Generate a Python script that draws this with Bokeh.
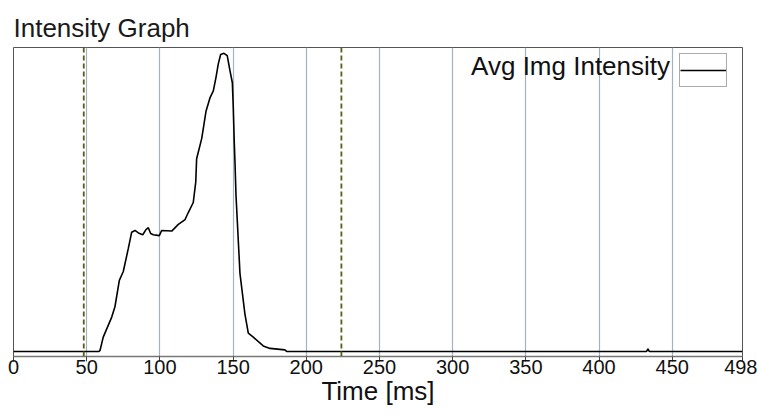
from bokeh.plotting import figure
from bokeh.models import Range1d, FixedTicker, Span, Label, Legend, LegendItem
from bokeh.embed import file_html
from bokeh.resources import INLINE

# ---- data ----
time_ms = [0, 58.4, 59.1, 61.3, 67.1, 69.3, 72.3, 75.0, 78.4, 80.7, 83.0, 85.3, 88.3,
           90.5, 92.1, 93.7, 95.5, 99.6, 101.2, 108.1, 112.6, 117.2, 119.4, 122.8,
           124.5, 125.1, 128.6, 131.5, 134.2, 136.5, 138.3, 139.9, 141.5, 143.8,
           146.0, 147.9, 149.5, 150.1, 150.8, 151.3, 152.0, 154.7, 158.1, 160.4,
           163.8, 170.6, 175.2, 185.4, 186.6, 432.5, 433.4, 434.3, 498]
intensity = [0, 0, 0.3, 4.7, 11.3, 14.7, 23.4, 26.3, 33.8, 39.2, 39.8, 39.0, 38.4,
             40.1, 40.7, 38.8, 38.4, 38.1, 39.8, 39.6, 41.8, 43.4, 45.7, 49.0,
             55.7, 63.4, 70.1, 79.0, 83.4, 85.7, 90.1, 94.6, 97.7, 98.1,
             97.3, 92.3, 88.4, 80.7, 69.0, 62.3, 51.3, 25.7, 12.3, 6.0,
             4.7, 1.8, 1.0, 0.5, 0, 0, 0.8, 0, 0]
x_ticks = [0, 50, 100, 150, 200, 250, 300, 350, 400, 450, 498]
grid_ticks = [50, 100, 150, 200, 250, 300, 350, 400, 450]
cursor_ms = [48, 224]
series_name = "Avg Img Intensity"

FONT = "Liberation Sans"

p = figure(width=757, height=414, output_backend="svg", toolbar_location=None,
           x_range=Range1d(0, 498), y_range=Range1d(-1.667, 100),
           y_axis_location=None, min_border_left=13, min_border_right=15,
           min_border_top=47, min_border_bottom=58)

p.background_fill_color = "white"
p.border_fill_color = "white"
p.outline_line_color = "#555555"
p.outline_line_width = 1

# title
p.title.text = "Intensity Graph"
p.title.text_font = FONT
p.title.text_font_size = "26px"
p.title.text_font_style = "normal"
p.title.text_color = "#1a1a1a"
p.title.align = "left"
p.title.offset = 0
p.title.standoff = 9

# grid
p.ygrid.visible = False
p.xgrid.ticker = FixedTicker(ticks=grid_ticks)
p.xgrid.grid_line_color = "#a0b4bf"
p.xgrid.grid_line_width = 1.2

# axis
ax = p.xaxis[0]
ax.ticker = FixedTicker(ticks=x_ticks)
ax.axis_line_color = "#777777"
ax.axis_line_width = 1.5
ax.major_tick_line_color = "#444444"
ax.major_tick_in = 0
ax.major_tick_out = 5
ax.minor_tick_line_color = None
ax.major_label_text_font = FONT
ax.major_label_text_font_size = "20px"
ax.major_label_text_color = "#111111"
ax.major_label_standoff = -2
ax.axis_label = "Time [ms]"
ax.axis_label_text_font = FONT
ax.axis_label_text_font_size = "26px"
ax.axis_label_text_font_style = "normal"
ax.axis_label_text_color = "#111111"
ax.axis_label_standoff = -1

# cursors
for c in cursor_ms:
    p.add_layout(Span(location=c, dimension="height", line_color="#5c5c14",
                      line_width=1.8, line_dash="5 3"))

# curve
r = p.line(time_ms, intensity, line_color="black", line_width=1.6)

# legend: text label + glyph box
p.add_layout(Label(x=448.5, y=94.0, text=series_name, text_align="right",
                   text_baseline="middle", text_font=FONT,
                   text_font_size="26px", text_color="#111111"))
leg = Legend(items=[LegendItem(label="", renderers=[r])], location=(666, 269),
             glyph_width=46, glyph_height=32, label_width=0, label_standoff=0,
             padding=0, margin=0, spacing=0, border_line_color="#555555",
             border_line_width=1, background_fill_alpha=1.0,
             label_text_font_size="1px")
p.add_layout(leg)

open("out.html", "w").write(file_html(p, INLINE))
